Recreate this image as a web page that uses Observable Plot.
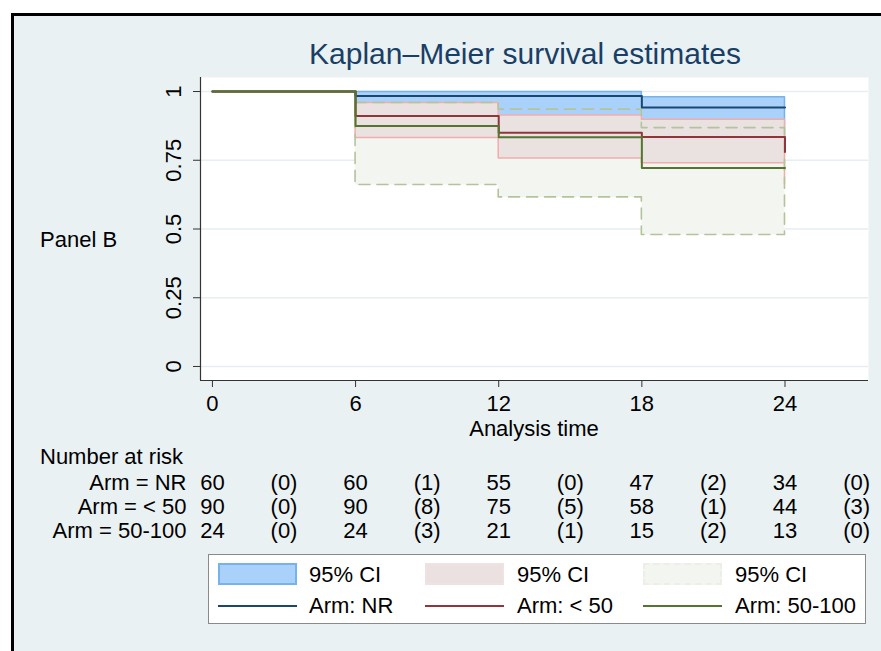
<!DOCTYPE html>
<html>
<head>
<meta charset="utf-8">
<script src="https://cdn.jsdelivr.net/npm/d3@7"></script>
<script src="https://cdn.jsdelivr.net/npm/@observablehq/plot@0.6"></script>
<style>
  html, body { margin: 0; padding: 0; background: #ffffff; }
  body { width: 881px; height: 651px; overflow: hidden; position: relative;
         font-family: "Liberation Sans", Arial, sans-serif; color: #000; }
  #frame { position: absolute; left: 11px; top: 13px; width: 900px; height: 700px;
           border-left: 3px solid #000; border-top: 3px solid #000; background: #e9f1f3; }
  .abs { position: absolute; white-space: nowrap; }
  #title { left: 525px; top: 36px; transform: translateX(-50%); font-size: 30px; color: #1a3f66; line-height: 35px; }
  #panel { left: 40px; top: 228px; font-size: 22px; line-height: 24px; }
  #xlabel { left: 534px; top: 417px; transform: translateX(-50%); font-size: 22px; line-height: 24px; }
  #nar { left: 40px; top: 444px; font-size: 22px; line-height: 26px; }
  #legend { left: 208px; top: 554px; width: 656px; height: 68px; background: #fff; border: 1px solid #8a8a8a; }
  .sw { position: absolute; width: 75px; height: 18px; }
  .ln { position: absolute; width: 79px; height: 2px; }
  .lt { position: absolute; font-size: 22px; line-height: 24px; white-space: nowrap; }
  #main, #table { position: absolute; left: 0; }
</style>
</head>
<body>
<div id="frame"></div>
<div id="title" class="abs">Kaplan–Meier survival estimates</div>
<div id="panel" class="abs">Panel B</div>
<div id="main"></div>
<div id="xlabel" class="abs">Analysis time</div>
<div id="nar" class="abs">Number at risk</div>
<div id="table"></div>
<div id="legend" class="abs"></div>
<script>
// ---------- data ----------
const stepTimes = [0, 6, 12, 18, 24];
const survNR    = [1, 0.984, 0.984, 0.942, 0.942];
const survLT50  = [1, 0.911, 0.850, 0.835, 0.780];
const surv50100 = [1, 0.875, 0.834, 0.722, 0.722];

const ciTimes = [6, 12, 18, 24];
const ciLoNR    = [0.890, 0.890, 0.835, 0.835];
const ciHiNR    = [0.998, 0.998, 0.979, 0.979];
const ciLoLT50  = [0.831, 0.756, 0.739, 0.662];
const ciHiLT50  = [0.958, 0.913, 0.897, 0.860];
const ciLo50100 = [0.660, 0.615, 0.478, 0.478];
const ciHi50100 = [0.958, 0.934, 0.867, 0.867];

const xTicks = [0, 6, 12, 18, 24];
const yTicks = [0, 0.25, 0.5, 0.75, 1];
const yTickLabels = ["0", "0.25", "0.5", "0.75", "1"];

const armLabels = ["Arm = NR", "Arm = < 50", "Arm = 50-100"];
const riskTimes = [0, 6, 12, 18, 24];
const atRiskNR    = [60, 60, 55, 47, 34];
const atRiskLT50  = [90, 90, 75, 58, 44];
const atRisk50100 = [24, 24, 21, 15, 13];
const failNR    = [0, 1, 0, 2, 0];
const failLT50  = [0, 8, 5, 1, 3];
const fail50100 = [0, 3, 1, 2, 0];

const legendLabels = ["Arm: NR", "Arm: < 50", "Arm: 50-100"];
const ciLabel = "95% CI";

// ---------- styles ----------
const colNR = "#1a476f", colLT50 = "#90353b", col50100 = "#55752f";
const xDomain = [-0.5, 27.5];
const yDomain = [-0.051, 1.051];
const font = "Liberation Sans, Arial, sans-serif";

const steps = (vals) => stepTimes.map((t, i) => ({t, s: vals[i]}));
const band = (lo, hi) => ciTimes.map((t, i) => ({t, lo: lo[i], hi: hi[i]}));

const main = Plot.plot({
  width: 881, height: 380,
  marginLeft: 200, marginRight: 13, marginTop: 17, marginBottom: 60,
  style: {fontFamily: font, fontSize: "22px", background: "transparent", color: "#000"},
  x: {domain: xDomain},
  y: {domain: yDomain},
  marks: [
    Plot.frame({fill: "white", stroke: "none"}),
    Plot.ruleY(yTicks, {stroke: "#e6eef1", strokeWidth: 1.5}),
    // CI fills
    Plot.areaY(band(ciLo50100, ciHi50100), {x: "t", y1: "lo", y2: "hi", curve: "step-after", fill: "#f3f5f1"}),
    Plot.areaY(band(ciLoNR, ciHiNR), {x: "t", y1: "lo", y2: "hi", curve: "step-after", fill: "#a9d1f9", stroke: "#76b2ec", strokeWidth: 1.5}),
    Plot.areaY(band(ciLoLT50, ciHiLT50), {x: "t", y1: "lo", y2: "hi", curve: "step-after", fill: "#e9e2e1", stroke: "#f2adab", strokeWidth: 1.5}),
    Plot.areaY(band(ciLo50100, ciHi50100), {x: "t", y1: "lo", y2: "hi", curve: "step-after", fill: "none", stroke: "#b3c39c", strokeWidth: 1.6, strokeDasharray: "11,7"}),
    // survival lines
    Plot.lineY(steps(survNR), {x: "t", y: "s", curve: "step-after", stroke: colNR, strokeWidth: 2}),
    Plot.lineY(steps(survLT50), {x: "t", y: "s", curve: "step-after", stroke: colLT50, strokeWidth: 2}),
    Plot.lineY(steps(surv50100), {x: "t", y: "s", curve: "step-after", stroke: col50100, strokeWidth: 2}),
    // axes
    Plot.ruleX([xDomain[0]], {stroke: "#333", strokeWidth: 1.2}),
    Plot.ruleY([yDomain[0]], {stroke: "#333", strokeWidth: 1.2}),
    Plot.axisY(yTicks, {anchor: "left", tickSize: 7, tickPadding: 13, tickRotate: -90, fontSize: 22,
      tickFormat: (d) => yTickLabels[yTicks.indexOf(d)], label: null, stroke: "#333"}),
    Plot.axisX(xTicks, {anchor: "bottom", tickSize: 7, tickPadding: 8, fontSize: 22, label: null, stroke: "#333"})
  ]
});
const mainDiv = document.getElementById("main");
mainDiv.style.top = "60px";
mainDiv.appendChild(main);

// ---------- risk table ----------
const cells = [];
const atRisk = [atRiskNR, atRiskLT50, atRisk50100];
const fails = [failNR, failLT50, fail50100];
armLabels.forEach((arm, r) => {
  riskTimes.forEach((t, i) => {
    cells.push({x: t, arm, txt: String(atRisk[r][i])});
    cells.push({x: t + 3, arm, txt: "(" + fails[r][i] + ")"});
  });
});
const table = Plot.plot({
  width: 881, height: 110,
  marginLeft: 200, marginRight: 13, marginTop: 0, marginBottom: 0,
  style: {fontFamily: font, fontSize: "22px", background: "transparent", color: "#000"},
  x: {domain: xDomain, axis: null},
  y: {type: "point", domain: armLabels, range: [42, 90], padding: 0, axis: null},
  marks: [
    Plot.text(cells, {x: "x", y: "arm", text: "txt", fontSize: 22, fill: "#000"}),
    Plot.text(armLabels, {x: xDomain[0], y: (d) => d, text: (d) => d, dx: -14, textAnchor: "end", fontSize: 22, fill: "#000"})
  ]
});
const tableDiv = document.getElementById("table");
tableDiv.style.top = "440px";
tableDiv.appendChild(table);

// ---------- legend ----------
const legend = document.getElementById("legend");
const swX = [9, 216, 434];
const txX = [100, 308, 526];
const swStyles = [
  "background:#a9d1f9;border:2px solid #76b2ec;",
  "background:#ebe1e1;border:2px solid #eee2e2;",
  "background:#f3f5f1;border:2px dashed #eceee8;"
];
const lineCols = [colNR, colLT50, col50100];
for (let i = 0; i < 3; i++) {
  const sw = document.createElement("div");
  sw.className = "sw"; sw.style.cssText += swStyles[i] + `left:${swX[i]}px;top:8px;`;
  legend.appendChild(sw);
  const t1 = document.createElement("div");
  t1.className = "lt"; t1.textContent = ciLabel; t1.style.left = txX[i] + "px"; t1.style.top = "8px";
  legend.appendChild(t1);
  const ln = document.createElement("div");
  ln.className = "ln"; ln.style.background = lineCols[i]; ln.style.left = swX[i] + "px"; ln.style.top = "50px";
  legend.appendChild(ln);
  const t2 = document.createElement("div");
  t2.className = "lt"; t2.textContent = legendLabels[i]; t2.style.left = txX[i] + "px"; t2.style.top = "39px";
  legend.appendChild(t2);
}
</script>
</body>
</html>
